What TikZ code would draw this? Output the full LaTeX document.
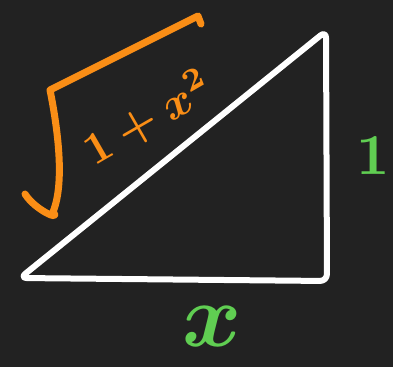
\documentclass[tikz,border=0pt]{standalone}
\definecolor{bgdark}{RGB}{34,34,34}
\definecolor{chalkorange}{RGB}{250,142,22}
\definecolor{chalkgreen}{RGB}{96,206,82}
\tikzset{
  chalk/.style={line width=6pt, line cap=round, line join=round},
  orangelabel/.style={text=chalkorange, font=\boldmath, inner sep=0pt, scale=4.5, transform shape},
  greenlabel/.style={text=chalkgreen, font=\boldmath, inner sep=0pt, transform shape}
}
\begin{document}
\begin{tikzpicture}[x=1pt,y=-1pt]
\fill[bgdark] (0,0) rectangle (393,367);
\useasboundingbox (0,0) rectangle (393,367);
% triangle
\coordinate (A) at (20,278);
\coordinate (B) at (327,281);
\coordinate (C) at (326,31);
\draw[chalk, white, rounded corners=7pt] (A) -- (B) -- (C) -- cycle;
% radical sign
\coordinate (R0) at (25,194);
\coordinate (R1) at (53,212);
\coordinate (R2) at (50,90);
\coordinate (R3) at (198,16);
\coordinate (R4) at (201,24);
\draw[chalk, chalkorange, line width=7pt] (R0) .. controls (35,210) and (62,222) .. (R1) .. controls (66,180) and (56,120) .. (R2) -- (R3) -- (R4);
% labels
\node[orangelabel, rotate=30] (hyp) at (148,118) {$1+x^{2}$};
\node[greenlabel, scale=5.8] (side) at (373,156) {$1$};
\node[greenlabel, scale=9] (base) at (212,326) {$x$};
\end{tikzpicture}
\end{document}
